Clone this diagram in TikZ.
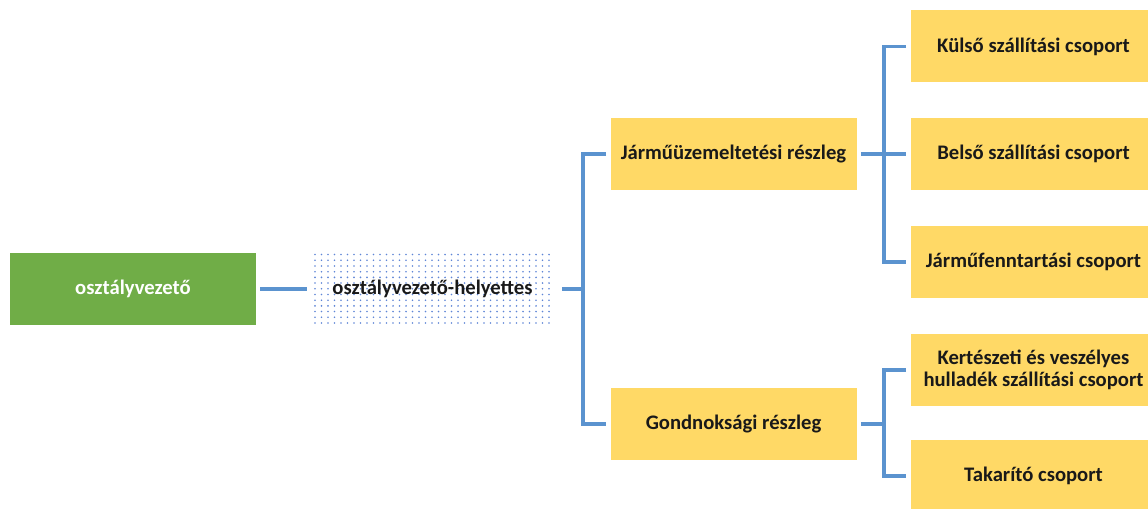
\documentclass[tikz,border=0pt]{standalone}
\usepackage{fontspec}
\setmainfont{Carlito}
\usetikzlibrary{positioning, calc}

\definecolor{leadgreen}{HTML}{70AD47}
\definecolor{unityellow}{HTML}{FFD966}
\definecolor{linkblue}{HTML}{5B93CF}
\definecolor{dotblue}{HTML}{5F86D6}

\tikzset{
  box/.style={minimum width=184.5pt, minimum height=54pt, inner sep=2pt,
    align=center, font=\bfseries\fontsize{15.5}{16}\selectfont},
  unit/.style={box, fill=unityellow, text=black!90},
  link/.style={draw=linkblue, line width=2.5pt},
}

\begin{document}
\begin{tikzpicture}[x=0.75pt, y=0.75pt]
\useasboundingbox (0,0) rectangle (1148,509);
\clip (0,0) rectangle (1148,509);

% Head and deputy
\node[box, fill=leadgreen, text=white] (head) at (133,220) {osztályvezető};
\node[box, minimum width=179pt, minimum height=55pt] (deputy) at (432.5,220) {};
\foreach \i in {0,...,36}
  \foreach \j in {0,...,12}
    \fill[dotblue] (315+\i*6.5, 186+\j*5.7) circle (0.9);
\node[box, text=black!90] at (deputy) {osztályvezető-helyettes};

% Departments
\node[unit] (fleet) at (733.5,355) {Járműüzemeltetési részleg};
\node[unit] (facility) at (733.5,85) {Gondnoksági részleg};

% Groups
\node[unit] (outer) at (1033.5,462.5) {Külső szállítási csoport};
\node[unit] (inner) at (1033.5,355) {Belső szállítási csoport};
\node[unit] (service) at (1033.5,247) {Járműfenntartási csoport};
\node[unit] (waste) at (1033.5,139) {Kertészeti és veszélyes\\hulladék szállítási csoport};
\node[unit] (cleaning) at (1033.5,33) {Takarító csoport};

% Connectors
\coordinate (bus1) at (583,220);
\coordinate (bus2) at (884,355);
\coordinate (bus3) at (884,85);

\draw[link] ([xshift=3pt]head.east) -- ([xshift=-4.5pt]deputy.west);
\draw[link] ([xshift=7.5pt]deputy.east) -- (bus1);
\draw[link] ([xshift=-3pt]fleet.west) -| (bus1) |- ([xshift=-3pt]facility.west);

\draw[link] ([xshift=3pt]fleet.east) -- (bus2);
\draw[link] ([xshift=-3pt]outer.west) -| (bus2) |- ([xshift=-3pt]service.west);
\draw[link] (bus2) -- ([xshift=-3pt]inner.west);

\draw[link] ([xshift=3pt]facility.east) -- (bus3);
\draw[link] ([xshift=-3pt]waste.west) -| (bus3) |- ([xshift=-3pt]cleaning.west);
\end{tikzpicture}
\end{document}
